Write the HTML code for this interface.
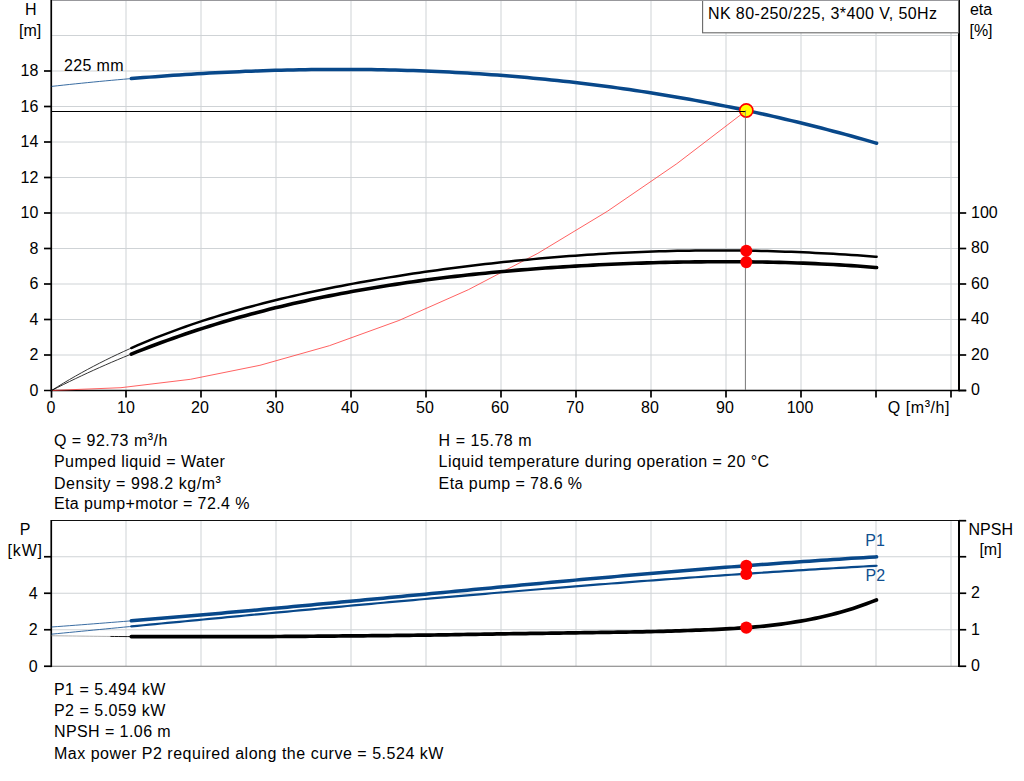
<!DOCTYPE html>
<html><head><meta charset="utf-8"><title>Pump curve</title>
<style>
html,body{margin:0;padding:0;background:#fff;overflow:hidden}
body{font-family:"Liberation Sans",sans-serif}
svg{display:block}
text{font-family:"Liberation Sans",sans-serif;font-size:16px}
</style></head><body>
<svg width="1024" height="781" viewBox="0 0 1024 781">
<rect x="0" y="0" width="1024" height="781" fill="#fff"/>
<g stroke="#cfd3d6" stroke-width="1" shape-rendering="auto"><line x1="126" y1="0" x2="126" y2="390"/><line x1="126" y1="521" x2="126" y2="666"/><line x1="201" y1="0" x2="201" y2="390"/><line x1="201" y1="521" x2="201" y2="666"/><line x1="276" y1="0" x2="276" y2="390"/><line x1="276" y1="521" x2="276" y2="666"/><line x1="351" y1="0" x2="351" y2="390"/><line x1="351" y1="521" x2="351" y2="666"/><line x1="426" y1="0" x2="426" y2="390"/><line x1="426" y1="521" x2="426" y2="666"/><line x1="501" y1="0" x2="501" y2="390"/><line x1="501" y1="521" x2="501" y2="666"/><line x1="576" y1="0" x2="576" y2="390"/><line x1="576" y1="521" x2="576" y2="666"/><line x1="651" y1="0" x2="651" y2="390"/><line x1="651" y1="521" x2="651" y2="666"/><line x1="726" y1="0" x2="726" y2="390"/><line x1="726" y1="521" x2="726" y2="666"/><line x1="801" y1="0" x2="801" y2="390"/><line x1="801" y1="521" x2="801" y2="666"/><line x1="876" y1="0" x2="876" y2="390"/><line x1="876" y1="521" x2="876" y2="666"/><line x1="951" y1="0" x2="951" y2="390"/><line x1="951" y1="521" x2="951" y2="666"/><line x1="52" y1="355.00" x2="959" y2="355.00"/><line x1="52" y1="319.50" x2="959" y2="319.50"/><line x1="52" y1="284.00" x2="959" y2="284.00"/><line x1="52" y1="248.50" x2="959" y2="248.50"/><line x1="52" y1="213.00" x2="959" y2="213.00"/><line x1="52" y1="177.50" x2="959" y2="177.50"/><line x1="52" y1="142.00" x2="959" y2="142.00"/><line x1="52" y1="106.50" x2="959" y2="106.50"/><line x1="52" y1="71.00" x2="959" y2="71.00"/><line x1="52" y1="35.50" x2="959" y2="35.50"/><line x1="52" y1="629.75" x2="959" y2="629.75"/><line x1="52" y1="593.25" x2="959" y2="593.25"/><line x1="52" y1="556.75" x2="959" y2="556.75"/></g>
<line x1="51" y1="520.5" x2="960" y2="520.5" stroke="#111" stroke-width="1"/>
<line x1="51" y1="666.3" x2="960" y2="666.3" stroke="#7a7a7a" stroke-width="1.1"/>
<g stroke="#000" stroke-width="1.7"><line x1="51.25" y1="0" x2="51.25" y2="391.3"/><line x1="959" y1="0" x2="959" y2="391.3" stroke-width="2"/><line x1="44" y1="390.5" x2="966.2" y2="390.5"/><line x1="51.25" y1="520" x2="51.25" y2="667.1"/><line x1="959" y1="520" x2="959" y2="667.1" stroke-width="2"/><line x1="44" y1="355.00" x2="51.25" y2="355.00"/><line x1="44" y1="319.50" x2="51.25" y2="319.50"/><line x1="44" y1="284.00" x2="51.25" y2="284.00"/><line x1="44" y1="248.50" x2="51.25" y2="248.50"/><line x1="44" y1="213.00" x2="51.25" y2="213.00"/><line x1="44" y1="177.50" x2="51.25" y2="177.50"/><line x1="44" y1="142.00" x2="51.25" y2="142.00"/><line x1="44" y1="106.50" x2="51.25" y2="106.50"/><line x1="44" y1="71.00" x2="51.25" y2="71.00"/><line x1="959" y1="390.50" x2="966.2" y2="390.50"/><line x1="959" y1="355.00" x2="966.2" y2="355.00"/><line x1="959" y1="319.50" x2="966.2" y2="319.50"/><line x1="959" y1="284.00" x2="966.2" y2="284.00"/><line x1="959" y1="248.50" x2="966.2" y2="248.50"/><line x1="959" y1="213.00" x2="966.2" y2="213.00"/><line x1="51.5" y1="390.5" x2="51.5" y2="397.6"/><line x1="126" y1="390.5" x2="126" y2="397.6"/><line x1="201" y1="390.5" x2="201" y2="397.6"/><line x1="276" y1="390.5" x2="276" y2="397.6"/><line x1="351" y1="390.5" x2="351" y2="397.6"/><line x1="426" y1="390.5" x2="426" y2="397.6"/><line x1="501" y1="390.5" x2="501" y2="397.6"/><line x1="576" y1="390.5" x2="576" y2="397.6"/><line x1="651" y1="390.5" x2="651" y2="397.6"/><line x1="726" y1="390.5" x2="726" y2="397.6"/><line x1="801" y1="390.5" x2="801" y2="397.6"/><line x1="876" y1="390.5" x2="876" y2="397.6"/><line x1="951" y1="390.5" x2="951" y2="397.6"/><line x1="44" y1="666.25" x2="51.25" y2="666.25"/><line x1="44" y1="629.75" x2="51.25" y2="629.75"/><line x1="44" y1="593.25" x2="51.25" y2="593.25"/><line x1="44" y1="556.75" x2="51.25" y2="556.75"/><line x1="959" y1="666.25" x2="966.2" y2="666.25"/><line x1="959" y1="629.75" x2="966.2" y2="629.75"/><line x1="959" y1="593.25" x2="966.2" y2="593.25"/><line x1="959" y1="556.75" x2="966.2" y2="556.75"/><line x1="959" y1="520.70" x2="966.2" y2="520.70"/></g>
<rect x="702.6" y="-2" width="256" height="34.8" fill="#fff" stroke="#686868" stroke-width="1.1"/>
<rect x="52" y="0" width="906" height="1" fill="#98989c"/>
<path d="M51.50,390.50 L120.98,387.70 L190.46,379.30 L259.94,365.30 L329.42,345.70 L398.90,320.50 L468.38,289.70 L537.86,253.30 L607.34,211.30 L676.82,163.70 L746.30,110.50" fill="none" stroke="#ff3a3a" stroke-width="0.8"/>
<line x1="52" y1="111.5" x2="745.8" y2="111.5" stroke="#000" stroke-width="1"/>
<line x1="745.4" y1="110.5" x2="745.4" y2="390" stroke="#777" stroke-width="1"/>
<path d="M51.50,86.41 L57.50,85.75 L63.50,85.10 L69.50,84.46 L75.50,83.83 L81.50,83.22 L87.50,82.61 L93.50,82.02 L99.50,81.44 L105.50,80.87 L111.50,80.32 L117.50,79.78 L123.50,79.25 L129.50,78.73 L131.30,78.58" fill="none" stroke="#08488a" stroke-width="0.8"/>
<path d="M131.30,78.58 L137.30,78.08 L143.30,77.59 L149.30,77.12 L155.30,76.65 L161.30,76.21 L167.30,75.77 L173.30,75.35 L179.30,74.94 L185.30,74.55 L191.30,74.17 L197.30,73.80 L203.30,73.45 L209.30,73.11 L215.30,72.78 L221.30,72.47 L227.30,72.18 L233.30,71.89 L239.30,71.63 L245.30,71.37 L251.30,71.13 L257.30,70.91 L263.30,70.70 L269.30,70.51 L275.30,70.33 L281.30,70.17 L287.30,70.02 L293.30,69.88 L299.30,69.77 L305.30,69.67 L311.30,69.58 L317.30,69.51 L323.30,69.45 L329.30,69.41 L335.30,69.39 L341.30,69.38 L347.30,69.39 L353.30,69.42 L359.30,69.46 L365.30,69.52 L371.30,69.59 L377.30,69.68 L383.30,69.79 L389.30,69.92 L395.30,70.06 L401.30,70.21 L407.30,70.39 L413.30,70.58 L419.30,70.79 L425.30,71.02 L431.30,71.26 L437.30,71.52 L443.30,71.80 L449.30,72.10 L455.30,72.41 L461.30,72.75 L467.30,73.10 L473.30,73.47 L479.30,73.85 L485.30,74.26 L491.30,74.68 L497.30,75.12 L503.30,75.58 L509.30,76.05 L515.30,76.55 L521.30,77.06 L527.30,77.60 L533.30,78.15 L539.30,78.72 L545.30,79.31 L551.30,79.92 L557.30,80.54 L563.30,81.19 L569.30,81.86 L575.30,82.54 L581.30,83.24 L587.30,83.97 L593.30,84.71 L599.30,85.47 L605.30,86.26 L611.30,87.06 L617.30,87.88 L623.30,88.72 L629.30,89.58 L635.30,90.46 L641.30,91.36 L647.30,92.29 L653.30,93.23 L659.30,94.19 L665.30,95.17 L671.30,96.17 L677.30,97.20 L683.30,98.24 L689.30,99.31 L695.30,100.39 L701.30,101.50 L707.30,102.62 L713.30,103.77 L719.30,104.94 L725.30,106.13 L731.30,107.34 L737.30,108.57 L743.30,109.82 L749.30,111.09 L755.30,112.39 L761.30,113.71 L767.30,115.04 L773.30,116.40 L779.30,117.78 L785.30,119.19 L791.30,120.61 L797.30,122.06 L803.30,123.52 L809.30,125.01 L815.30,126.52 L821.30,128.06 L827.30,129.61 L833.30,131.19 L839.30,132.79 L845.30,134.41 L851.30,136.06 L857.30,137.72 L863.30,139.41 L869.30,141.12 L875.30,142.86 L876.60,143.24" fill="none" stroke="#08488a" stroke-width="3.5" stroke-linecap="round" stroke-linejoin="round"/>
<path d="M51.50,390.52 L57.50,386.76 L63.50,383.11 L69.50,379.56 L75.50,376.10 L81.50,372.74 L87.50,369.46 L93.50,366.28 L99.50,363.17 L105.50,360.15 L111.50,357.21 L117.50,354.35 L123.50,351.56 L129.50,348.85 L131.30,348.05" fill="none" stroke="#000" stroke-width="0.8"/>
<path d="M131.30,348.05 L137.30,345.43 L143.30,342.87 L149.30,340.38 L155.30,337.96 L161.30,335.60 L167.30,333.30 L173.30,331.05 L179.30,328.86 L185.30,326.73 L191.30,324.65 L197.30,322.62 L203.30,320.65 L209.30,318.72 L215.30,316.83 L221.30,315.00 L227.30,313.20 L233.30,311.45 L239.30,309.74 L245.30,308.07 L251.30,306.44 L257.30,304.84 L263.30,303.29 L269.30,301.77 L275.30,300.28 L281.30,298.82 L287.30,297.40 L293.30,296.01 L299.30,294.65 L305.30,293.32 L311.30,292.01 L317.30,290.74 L323.30,289.49 L329.30,288.27 L335.30,287.07 L341.30,285.90 L347.30,284.76 L353.30,283.63 L359.30,282.54 L365.30,281.46 L371.30,280.40 L377.30,279.37 L383.30,278.36 L389.30,277.37 L395.30,276.40 L401.30,275.45 L407.30,274.52 L413.30,273.60 L419.30,272.71 L425.30,271.84 L431.30,270.98 L437.30,270.14 L443.30,269.33 L449.30,268.52 L455.30,267.74 L461.30,266.97 L467.30,266.23 L473.30,265.49 L479.30,264.78 L485.30,264.08 L491.30,263.40 L497.30,262.74 L503.30,262.09 L509.30,261.46 L515.30,260.85 L521.30,260.26 L527.30,259.68 L533.30,259.12 L539.30,258.57 L545.30,258.04 L551.30,257.53 L557.30,257.04 L563.30,256.56 L569.30,256.10 L575.30,255.66 L581.30,255.23 L587.30,254.83 L593.30,254.44 L599.30,254.06 L605.30,253.71 L611.30,253.37 L617.30,253.05 L623.30,252.75 L629.30,252.47 L635.30,252.20 L641.30,251.96 L647.30,251.73 L653.30,251.52 L659.30,251.33 L665.30,251.15 L671.30,251.00 L677.30,250.87 L683.30,250.75 L689.30,250.65 L695.30,250.57 L701.30,250.51 L707.30,250.47 L713.30,250.45 L719.30,250.44 L725.30,250.46 L731.30,250.49 L737.30,250.55 L743.30,250.62 L749.30,250.71 L755.30,250.82 L761.30,250.95 L767.30,251.09 L773.30,251.26 L779.30,251.44 L785.30,251.64 L791.30,251.86 L797.30,252.10 L803.30,252.35 L809.30,252.62 L815.30,252.91 L821.30,253.21 L827.30,253.53 L833.30,253.87 L839.30,254.22 L845.30,254.59 L851.30,254.97 L857.30,255.37 L863.30,255.78 L869.30,256.20 L875.30,256.64 L876.60,256.73" fill="none" stroke="#000" stroke-width="2.5" stroke-linecap="round" stroke-linejoin="round"/>
<path d="M51.50,390.54 L57.50,387.49 L63.50,384.49 L69.50,381.54 L75.50,378.65 L81.50,375.80 L87.50,373.01 L93.50,370.26 L99.50,367.56 L105.50,364.91 L111.50,362.31 L117.50,359.76 L123.50,357.25 L129.50,354.79 L131.30,354.06" fill="none" stroke="#000" stroke-width="0.8"/>
<path d="M131.30,354.06 L137.30,351.66 L143.30,349.31 L149.30,346.99 L155.30,344.73 L161.30,342.50 L167.30,340.32 L173.30,338.19 L179.30,336.09 L185.30,334.04 L191.30,332.03 L197.30,330.05 L203.30,328.12 L209.30,326.23 L215.30,324.38 L221.30,322.56 L227.30,320.78 L233.30,319.04 L239.30,317.34 L245.30,315.68 L251.30,314.04 L257.30,312.45 L263.30,310.89 L269.30,309.36 L275.30,307.87 L281.30,306.41 L287.30,304.98 L293.30,303.59 L299.30,302.23 L305.30,300.90 L311.30,299.60 L317.30,298.33 L323.30,297.09 L329.30,295.87 L335.30,294.69 L341.30,293.54 L347.30,292.41 L353.30,291.31 L359.30,290.24 L365.30,289.19 L371.30,288.17 L377.30,287.18 L383.30,286.21 L389.30,285.27 L395.30,284.35 L401.30,283.45 L407.30,282.58 L413.30,281.73 L419.30,280.90 L425.30,280.09 L431.30,279.31 L437.30,278.54 L443.30,277.80 L449.30,277.08 L455.30,276.38 L461.30,275.70 L467.30,275.04 L473.30,274.39 L479.30,273.77 L485.30,273.17 L491.30,272.58 L497.30,272.01 L503.30,271.46 L509.30,270.92 L515.30,270.41 L521.30,269.91 L527.30,269.42 L533.30,268.95 L539.30,268.50 L545.30,268.07 L551.30,267.65 L557.30,267.24 L563.30,266.85 L569.30,266.48 L575.30,266.12 L581.30,265.77 L587.30,265.44 L593.30,265.12 L599.30,264.82 L605.30,264.53 L611.30,264.26 L617.30,264.00 L623.30,263.75 L629.30,263.52 L635.30,263.30 L641.30,263.10 L647.30,262.91 L653.30,262.73 L659.30,262.57 L665.30,262.42 L671.30,262.29 L677.30,262.17 L683.30,262.06 L689.30,261.97 L695.30,261.89 L701.30,261.83 L707.30,261.78 L713.30,261.74 L719.30,261.72 L725.30,261.72 L731.30,261.73 L737.30,261.76 L743.30,261.80 L749.30,261.86 L755.30,261.93 L761.30,262.02 L767.30,262.13 L773.30,262.25 L779.30,262.40 L785.30,262.56 L791.30,262.74 L797.30,262.94 L803.30,263.15 L809.30,263.39 L815.30,263.65 L821.30,263.93 L827.30,264.23 L833.30,264.55 L839.30,264.89 L845.30,265.26 L851.30,265.64 L857.30,266.06 L863.30,266.50 L869.30,266.96 L875.30,267.45 L876.60,267.56" fill="none" stroke="#000" stroke-width="3.6" stroke-linecap="round" stroke-linejoin="round"/>
<path d="M51.50,627.01 L57.50,626.57 L63.50,626.13 L69.50,625.68 L75.50,625.22 L81.50,624.77 L87.50,624.31 L93.50,623.84 L99.50,623.37 L105.50,622.90 L111.50,622.42 L117.50,621.94 L123.50,621.46 L129.50,620.97 L131.30,620.83" fill="none" stroke="#08488a" stroke-width="0.8"/>
<path d="M131.30,620.83 L137.30,620.33 L143.30,619.84 L149.30,619.34 L155.30,618.84 L161.30,618.34 L167.30,617.83 L173.30,617.32 L179.30,616.80 L185.30,616.29 L191.30,615.77 L197.30,615.25 L203.30,614.72 L209.30,614.20 L215.30,613.67 L221.30,613.14 L227.30,612.60 L233.30,612.07 L239.30,611.53 L245.30,610.99 L251.30,610.44 L257.30,609.90 L263.30,609.35 L269.30,608.80 L275.30,608.25 L281.30,607.70 L287.30,607.15 L293.30,606.60 L299.30,606.04 L305.30,605.48 L311.30,604.92 L317.30,604.36 L323.30,603.80 L329.30,603.24 L335.30,602.67 L341.30,602.11 L347.30,601.55 L353.30,600.98 L359.30,600.41 L365.30,599.84 L371.30,599.28 L377.30,598.71 L383.30,598.14 L389.30,597.57 L395.30,597.00 L401.30,596.43 L407.30,595.86 L413.30,595.29 L419.30,594.72 L425.30,594.15 L431.30,593.58 L437.30,593.01 L443.30,592.44 L449.30,591.87 L455.30,591.30 L461.30,590.74 L467.30,590.17 L473.30,589.60 L479.30,589.03 L485.30,588.47 L491.30,587.91 L497.30,587.34 L503.30,586.78 L509.30,586.22 L515.30,585.66 L521.30,585.10 L527.30,584.54 L533.30,583.98 L539.30,583.43 L545.30,582.88 L551.30,582.32 L557.30,581.77 L563.30,581.23 L569.30,580.68 L575.30,580.13 L581.30,579.59 L587.30,579.05 L593.30,578.51 L599.30,577.98 L605.30,577.44 L611.30,576.91 L617.30,576.38 L623.30,575.85 L629.30,575.33 L635.30,574.81 L641.30,574.29 L647.30,573.77 L653.30,573.26 L659.30,572.75 L665.30,572.24 L671.30,571.74 L677.30,571.23 L683.30,570.74 L689.30,570.24 L695.30,569.75 L701.30,569.26 L707.30,568.78 L713.30,568.29 L719.30,567.82 L725.30,567.34 L731.30,566.87 L737.30,566.41 L743.30,565.94 L749.30,565.49 L755.30,565.03 L761.30,564.58 L767.30,564.13 L773.30,563.69 L779.30,563.26 L785.30,562.82 L791.30,562.39 L797.30,561.97 L803.30,561.55 L809.30,561.14 L815.30,560.73 L821.30,560.32 L827.30,559.92 L833.30,559.53 L839.30,559.14 L845.30,558.75 L851.30,558.37 L857.30,558.00 L863.30,557.63 L869.30,557.27 L875.30,556.91 L876.60,556.83" fill="none" stroke="#08488a" stroke-width="3.5" stroke-linecap="round" stroke-linejoin="round"/>
<path d="M51.50,634.18 L57.50,633.59 L63.50,633.01 L69.50,632.43 L75.50,631.84 L81.50,631.26 L87.50,630.68 L93.50,630.09 L99.50,629.51 L105.50,628.93 L111.50,628.35 L117.50,627.77 L123.50,627.18 L129.50,626.60 L131.30,626.43" fill="none" stroke="#08488a" stroke-width="0.8"/>
<path d="M131.30,626.43 L137.30,625.85 L143.30,625.27 L149.30,624.69 L155.30,624.11 L161.30,623.53 L167.30,622.96 L173.30,622.38 L179.30,621.80 L185.30,621.23 L191.30,620.65 L197.30,620.07 L203.30,619.50 L209.30,618.93 L215.30,618.35 L221.30,617.78 L227.30,617.21 L233.30,616.64 L239.30,616.07 L245.30,615.50 L251.30,614.94 L257.30,614.37 L263.30,613.80 L269.30,613.24 L275.30,612.68 L281.30,612.11 L287.30,611.55 L293.30,610.99 L299.30,610.43 L305.30,609.87 L311.30,609.32 L317.30,608.76 L323.30,608.20 L329.30,607.65 L335.30,607.10 L341.30,606.55 L347.30,606.00 L353.30,605.45 L359.30,604.90 L365.30,604.36 L371.30,603.81 L377.30,603.27 L383.30,602.73 L389.30,602.19 L395.30,601.65 L401.30,601.12 L407.30,600.58 L413.30,600.05 L419.30,599.51 L425.30,598.98 L431.30,598.46 L437.30,597.93 L443.30,597.40 L449.30,596.88 L455.30,596.36 L461.30,595.84 L467.30,595.32 L473.30,594.81 L479.30,594.29 L485.30,593.78 L491.30,593.27 L497.30,592.76 L503.30,592.26 L509.30,591.75 L515.30,591.25 L521.30,590.75 L527.30,590.25 L533.30,589.75 L539.30,589.26 L545.30,588.77 L551.30,588.28 L557.30,587.79 L563.30,587.31 L569.30,586.83 L575.30,586.35 L581.30,585.87 L587.30,585.39 L593.30,584.92 L599.30,584.45 L605.30,583.98 L611.30,583.51 L617.30,583.05 L623.30,582.59 L629.30,582.13 L635.30,581.67 L641.30,581.22 L647.30,580.77 L653.30,580.32 L659.30,579.88 L665.30,579.43 L671.30,578.99 L677.30,578.56 L683.30,578.12 L689.30,577.69 L695.30,577.26 L701.30,576.84 L707.30,576.41 L713.30,575.99 L719.30,575.58 L725.30,575.16 L731.30,574.75 L737.30,574.34 L743.30,573.94 L749.30,573.54 L755.30,573.14 L761.30,572.74 L767.30,572.35 L773.30,571.96 L779.30,571.57 L785.30,571.19 L791.30,570.81 L797.30,570.43 L803.30,570.06 L809.30,569.69 L815.30,569.32 L821.30,568.96 L827.30,568.60 L833.30,568.24 L839.30,567.89 L845.30,567.54 L851.30,567.19 L857.30,566.85 L863.30,566.51 L869.30,566.18 L875.30,565.85 L876.60,565.77" fill="none" stroke="#08488a" stroke-width="2.2" stroke-linecap="round" stroke-linejoin="round"/>
<path d="M51.50,635.75 L55.71,635.80 L59.91,635.84 L64.12,635.90 L68.32,635.95 L72.53,636.00 L76.73,636.05 L80.94,636.11 L85.14,636.16 L89.35,636.21 L93.55,636.27 L97.76,636.32 L101.96,636.36 L106.17,636.41 L110.37,636.45" fill="none" stroke="#9a9a9a" stroke-width="0.8"/>
<path d="M110.37,636.45 L114.58,636.49 L118.78,636.52 L122.99,636.55 L127.19,636.58 L131.30,636.60" fill="none" stroke="#000" stroke-width="0.9"/>
<path d="M131.30,636.60 L131.40,636.60 L135.42,636.62 L139.44,636.63 L143.46,636.64 L147.48,636.66 L151.50,636.67 L155.52,636.68 L159.54,636.69 L163.55,636.69 L167.57,636.70 L171.59,636.70 L175.61,636.71 L179.63,636.71 L183.65,636.71 L187.67,636.71 L191.69,636.71 L195.71,636.71 L199.73,636.71 L203.75,636.71 L207.77,636.71 L211.79,636.70 L215.81,636.70 L219.83,636.69 L223.85,636.68 L227.86,636.67 L231.88,636.67 L235.90,636.66 L239.92,636.65 L243.94,636.64 L247.96,636.62 L251.98,636.61 L256.00,636.60 L260.13,636.59 L264.26,636.57 L268.39,636.55 L272.52,636.53 L276.65,636.51 L280.78,636.48 L284.91,636.45 L289.04,636.43 L293.17,636.40 L297.30,636.37 L301.43,636.33 L305.57,636.30 L309.70,636.27 L313.83,636.23 L317.96,636.20 L322.09,636.16 L326.22,636.12 L330.35,636.09 L334.48,636.05 L338.61,636.01 L342.74,635.97 L346.87,635.94 L351.00,635.90 L355.17,635.86 L359.33,635.83 L363.50,635.79 L367.67,635.75 L371.83,635.71 L376.00,635.67 L380.17,635.63 L384.33,635.59 L388.50,635.54 L392.67,635.50 L396.83,635.45 L401.00,635.41 L405.17,635.36 L409.33,635.31 L413.50,635.26 L417.67,635.21 L421.83,635.15 L426.00,635.10 L430.17,635.04 L434.33,634.98 L438.50,634.92 L442.67,634.86 L446.83,634.79 L451.00,634.73 L455.17,634.66 L459.33,634.59 L463.50,634.52 L467.67,634.45 L471.83,634.38 L476.00,634.31 L480.17,634.24 L484.33,634.17 L488.50,634.10 L492.67,634.03 L496.83,633.96 L501.00,633.90 L505.17,633.84 L509.33,633.77 L513.50,633.71 L517.67,633.65 L521.83,633.59 L526.00,633.53 L530.17,633.47 L534.33,633.41 L538.50,633.35 L542.67,633.29 L546.83,633.23 L551.00,633.17 L555.17,633.11 L559.33,633.05 L563.50,632.99 L567.67,632.93 L571.83,632.86 L576.00,632.80 L580.17,632.74 L584.33,632.68 L588.50,632.62 L592.67,632.56 L596.83,632.50 L601.00,632.44 L605.17,632.39 L609.33,632.33 L613.50,632.27 L617.67,632.21 L621.83,632.14 L626.00,632.08 L630.17,632.01 L634.33,631.94 L638.50,631.86 L642.67,631.78 L646.83,631.70 L651.00,631.61 L655.08,631.52 L659.17,631.41 L663.25,631.30 L667.33,631.18 L671.42,631.05 L675.50,630.92 L679.58,630.79 L683.67,630.65 L687.75,630.50 L691.83,630.36 L695.92,630.21 L700.00,630.07 L704.33,629.91 L708.67,629.74 L713.00,629.56 L717.33,629.37 L721.67,629.16 L726.00,628.94 L730.05,628.72 L734.10,628.48 L738.15,628.22 L742.20,627.94 L746.25,627.65 L750.83,627.29 L755.42,626.90 L760.00,626.48 L764.23,626.06 L768.47,625.61 L772.70,625.13 L776.93,624.62 L781.17,624.08 L785.40,623.50 L790.47,622.75 L795.53,621.95 L800.60,621.11 L805.70,620.21 L810.80,619.22 L815.03,618.35 L819.27,617.45 L823.50,616.50 L827.70,615.50 L831.90,614.46 L836.10,613.36 L840.33,612.21 L844.57,611.00 L848.80,609.73 L853.03,608.41 L857.27,607.03 L861.50,605.58 L866.47,603.78 L871.43,601.89 L876.40,600.01" fill="none" stroke="#000" stroke-width="3.7" stroke-linecap="round" stroke-linejoin="round"/>
<circle cx="746.3" cy="250.80" r="6.05" fill="#ff0000"/>
<circle cx="746.3" cy="262.10" r="6.05" fill="#ff0000"/>
<circle cx="746.3" cy="565.90" r="6.05" fill="#ff0000"/>
<circle cx="746.3" cy="574.00" r="6.05" fill="#ff0000"/>
<circle cx="746.3" cy="627.60" r="6.05" fill="#ff0000"/>
<circle cx="746.3" cy="110.5" r="6.6" fill="#ffff00" stroke="#ff0000" stroke-width="1.6"/>
<line x1="741.14" y1="114.45" x2="746.3" y2="110.5" stroke="#ff3a3a" stroke-width="0.8" opacity="0.6"/>
<line x1="738" y1="111.5" x2="745.6" y2="111.5" stroke="#000" stroke-width="1"/>
<line x1="745.4" y1="110.5" x2="745.4" y2="118" stroke="#777" stroke-width="1" opacity="0.7"/>
<g font-family="Liberation Sans, sans-serif" font-size="16px" style="white-space:pre"><text x="30.8" y="14.7" text-anchor="middle" fill="#000">H</text><text x="30.2" y="35.5" text-anchor="middle" fill="#000">[m]</text><text x="981" y="14.5" text-anchor="middle" fill="#000">eta</text><text x="981" y="35.5" text-anchor="middle" fill="#000">[%]</text><text x="25" y="535.2" text-anchor="middle" fill="#000">P</text><text x="7.6" y="555.6" text-anchor="start" fill="#000" textLength="34.4" lengthAdjust="spacing">[kW]</text><text x="990.8" y="535.2" text-anchor="middle" fill="#000">NPSH</text><text x="990.5" y="555.4" text-anchor="middle" fill="#000">[m]</text><text x="38.3" y="395.8" text-anchor="end" fill="#000">0</text><text x="38.3" y="360.3" text-anchor="end" fill="#000">2</text><text x="38.3" y="324.8" text-anchor="end" fill="#000">4</text><text x="38.3" y="289.3" text-anchor="end" fill="#000">6</text><text x="38.3" y="253.8" text-anchor="end" fill="#000">8</text><text x="38.3" y="218.3" text-anchor="end" fill="#000">10</text><text x="38.3" y="182.8" text-anchor="end" fill="#000">12</text><text x="38.3" y="147.3" text-anchor="end" fill="#000">14</text><text x="38.3" y="111.8" text-anchor="end" fill="#000">16</text><text x="38.3" y="76.3" text-anchor="end" fill="#000">18</text><text x="971" y="395.4" text-anchor="start" fill="#000">0</text><text x="971" y="359.9" text-anchor="start" fill="#000">20</text><text x="971" y="324.4" text-anchor="start" fill="#000">40</text><text x="971" y="288.9" text-anchor="start" fill="#000">60</text><text x="971" y="253.4" text-anchor="start" fill="#000">80</text><text x="971" y="217.9" text-anchor="start" fill="#000">100</text><text x="51" y="412.6" text-anchor="middle" fill="#000">0</text><text x="126" y="412.6" text-anchor="middle" fill="#000">10</text><text x="200" y="412.6" text-anchor="middle" fill="#000">20</text><text x="275" y="412.6" text-anchor="middle" fill="#000">30</text><text x="350" y="412.6" text-anchor="middle" fill="#000">40</text><text x="425" y="412.6" text-anchor="middle" fill="#000">50</text><text x="500" y="412.6" text-anchor="middle" fill="#000">60</text><text x="575" y="412.6" text-anchor="middle" fill="#000">70</text><text x="650" y="412.6" text-anchor="middle" fill="#000">80</text><text x="725" y="412.6" text-anchor="middle" fill="#000">90</text><text x="800" y="412.6" text-anchor="middle" fill="#000">100</text><text x="887.8" y="412.8" text-anchor="start" fill="#000" textLength="61.6" lengthAdjust="spacing">Q [m<tspan dy="-1.5">³</tspan><tspan dy="1.5">/h]</tspan></text><text x="37.6" y="671.5" text-anchor="end" fill="#000">0</text><text x="37.6" y="635.0" text-anchor="end" fill="#000">2</text><text x="37.6" y="598.5" text-anchor="end" fill="#000">4</text><text x="971" y="671.0" text-anchor="start" fill="#000">0</text><text x="971" y="634.5" text-anchor="start" fill="#000">1</text><text x="971" y="598.0" text-anchor="start" fill="#000">2</text><text x="64" y="70.5" text-anchor="start" fill="#000" textLength="59.5" lengthAdjust="spacing">225 mm</text><text x="708" y="18.9" text-anchor="start" fill="#000" textLength="229" lengthAdjust="spacing">NK 80-250/225, 3*400 V, 50Hz</text><text x="865.3" y="546.0" text-anchor="start" fill="#0f4f8f">P1</text><text x="865.5" y="581.0" text-anchor="start" fill="#0f4f8f">P2</text><text x="53.9" y="445.5" text-anchor="start" fill="#000" textLength="113.5" lengthAdjust="spacing">Q = 92.73 m<tspan dy="-1.5">³</tspan><tspan dy="1.5">/h</tspan></text><text x="53.9" y="466.9" text-anchor="start" fill="#000" textLength="171" lengthAdjust="spacing">Pumped liquid = Water</text><text x="53.9" y="488.6" text-anchor="start" fill="#000" textLength="167" lengthAdjust="spacing">Density = 998.2 kg/m<tspan dy="-1.5">³</tspan></text><text x="53.9" y="509.3" text-anchor="start" fill="#000" textLength="195.5" lengthAdjust="spacing">Eta pump+motor = 72.4 %</text><text x="438.6" y="445.5" text-anchor="start" fill="#000" textLength="93" lengthAdjust="spacing">H = 15.78 m</text><text x="438.6" y="466.9" text-anchor="start" fill="#000" textLength="330.5" lengthAdjust="spacing">Liquid temperature during operation = 20 °C</text><text x="438.6" y="488.6" text-anchor="start" fill="#000" textLength="143.5" lengthAdjust="spacing">Eta pump = 78.6 %</text><text x="53.9" y="694.7" text-anchor="start" fill="#000" textLength="111.5" lengthAdjust="spacing">P1 = 5.494 kW</text><text x="53.9" y="716.0" text-anchor="start" fill="#000" textLength="111.5" lengthAdjust="spacing">P2 = 5.059 kW</text><text x="53.9" y="737.4" text-anchor="start" fill="#000" textLength="116.8" lengthAdjust="spacing">NPSH = 1.06 m</text><text x="53.9" y="758.6" text-anchor="start" fill="#000" textLength="389.5" lengthAdjust="spacing">Max power P2 required along the curve = 5.524 kW</text></g>
</svg>
</body></html>
